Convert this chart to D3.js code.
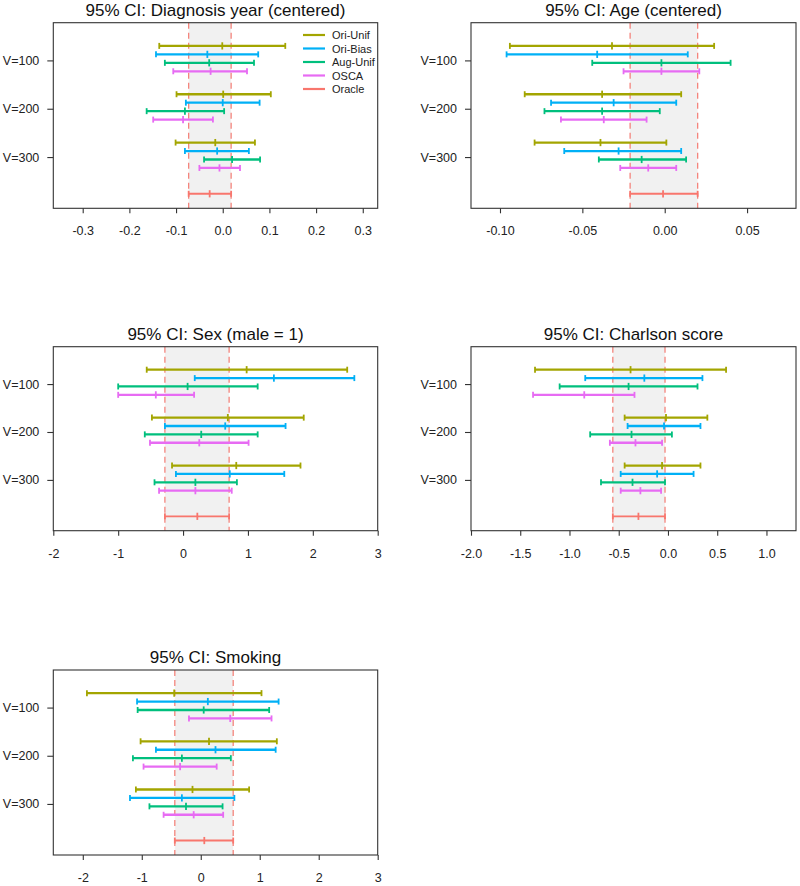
<!DOCTYPE html>
<html><head><meta charset="utf-8">
<script src="https://cdn.jsdelivr.net/npm/d3@7"></script>
<style>body{margin:0;background:#fff}svg{display:block;font-family:"Liberation Sans",Arial,sans-serif}</style>
</head><body>
<svg id="chart" width="800" height="886"></svg>
<script>
// ---- data ----
const methods = ["Ori-Unif", "Ori-Bias", "Aug-Unif", "OSCA"];
const legendLabels = ["Ori-Unif", "Ori-Bias", "Aug-Unif", "OSCA", "Oracle"];
const groups = ["V=100", "V=200", "V=300"];
const titles = ["95% CI: Diagnosis year (centered)", "95% CI: Age (centered)", "95% CI: Sex (male = 1)", "95% CI: Charlson score", "95% CI: Smoking"];

// values ordered V=100 (Ori-Unif, Ori-Bias, Aug-Unif, OSCA), V=200 (...), V=300 (...)
const diagLow  = [-0.136, -0.143, -0.124, -0.106,  -0.099, -0.079, -0.163, -0.149,  -0.101, -0.081, -0.040, -0.050];
const diagEst  = [-0.001, -0.033, -0.029, -0.026,   0.001,  0.000, -0.081, -0.085,  -0.016, -0.012,  0.020, -0.007];
const diagHigh = [ 0.134,  0.076,  0.067,  0.052,   0.103,  0.079,  0.003, -0.021,   0.069,  0.056,  0.080,  0.037];
const diagOracle = [-0.073, -0.028, 0.018];

const ageLow  = [-0.094, -0.096, -0.044, -0.025,  -0.085, -0.069, -0.073, -0.063,  -0.079, -0.061, -0.040, -0.027];
const ageEst  = [-0.032, -0.041, -0.002, -0.002,  -0.038, -0.031, -0.038, -0.037,  -0.039, -0.028, -0.014, -0.010];
const ageHigh = [ 0.030,  0.014,  0.040,  0.021,   0.010,  0.007, -0.003, -0.011,   0.001,  0.010,  0.013,  0.007];
const ageOracle = [-0.021, -0.001, 0.020];

const sexLow  = [-0.56, 0.18, -1.00, -1.00,  -0.48, -0.28, -0.59, -0.51,  -0.17, -0.11, -0.44, -0.37];
const sexEst  = [ 0.98, 1.40,  0.07, -0.42,   0.69,  0.65,  0.28,  0.25,   0.82,  0.72,  0.19,  0.19];
const sexHigh = [ 2.53, 2.64,  1.15,  0.17,   1.86,  1.58,  1.15,  1.01,   1.81,  1.56,  0.83,  0.75];
const sexOracle = [-0.28, 0.22, 0.71];

const charlLow  = [-1.35, -0.84, -1.10, -1.37,  -0.44, -0.41, -0.79, -0.59,  -0.44, -0.48, -0.68, -0.48];
const charlEst  = [-0.38, -0.24, -0.40, -0.85,  -0.02, -0.04, -0.37, -0.33,  -0.06, -0.11, -0.36, -0.28];
const charlHigh = [ 0.59,  0.35,  0.30, -0.34,   0.40,  0.33,  0.04, -0.06,   0.33,  0.26, -0.03, -0.07];
const charlOracle = [-0.56, -0.30, -0.03];

const smokeLow  = [-1.93, -1.08, -1.07, -0.20,  -1.02, -0.76, -1.15, -0.97,  -1.10, -1.20, -0.87, -0.63];
const smokeEst  = [-0.45,  0.12,  0.05,  0.50,   0.14,  0.25, -0.32, -0.35,  -0.14, -0.32, -0.25, -0.12];
const smokeHigh = [ 1.03,  1.32,  1.16,  1.20,   1.29,  1.27,  0.51,  0.27,   0.82,  0.57,  0.37,  0.38];
const smokeOracle = [-0.44, 0.06, 0.55];

const diagTicks  = [-0.3, -0.2, -0.1, 0.0, 0.1, 0.2, 0.3];
const ageTicks   = [-0.10, -0.05, 0.00, 0.05];
const sexTicks   = [-2, -1, 0, 1, 2, 3];
const charlTicks = [-2.0, -1.5, -1.0, -0.5, 0.0, 0.5, 1.0];
const smokeTicks = [-2, -1, 0, 1, 2, 3];

const colors = {"Ori-Unif": "#A3A500", "Ori-Bias": "#00B0F6", "Aug-Unif": "#00BF7D", "OSCA": "#E76BF3", "Oracle": "#F8766D"};

// ---- layout ----
const panels = [
  {title: titles[0], lo: diagLow, est: diagEst, hi: diagHigh, oracle: diagOracle, ticks: diagTicks, fmt: d3.format(".1f"), xdom: [-0.363, 0.332], box: [53.3, 377.7, 22.7, 208.3], legend: true},
  {title: titles[1], lo: ageLow, est: ageEst, hi: ageHigh, oracle: ageOracle, ticks: ageTicks, fmt: d3.format(".2f"), xdom: [-0.1176, 0.0797], box: [471, 796, 22.7, 208.3]},
  {title: titles[2], lo: sexLow, est: sexEst, hi: sexHigh, oracle: sexOracle, ticks: sexTicks, fmt: d3.format("d"), xdom: [-2, 3], box: [53.3, 377.7, 346.7, 530.7]},
  {title: titles[3], lo: charlLow, est: charlEst, hi: charlHigh, oracle: charlOracle, ticks: charlTicks, fmt: d3.format(".1f"), xdom: [-2, 1.3], box: [471, 796, 346.7, 530.7]},
  {title: titles[4], lo: smokeLow, est: smokeEst, hi: smokeHigh, oracle: smokeOracle, ticks: smokeTicks, fmt: d3.format("d"), xdom: [-2.5, 3], box: [53.3, 377.7, 670, 855]}
];

const svg = d3.select("#chart");
const rowOffset = i => -0.3 + i * 0.175;
const oraclePos = 2.76;
const minus = s => s.replace("−", "-");

function drawCI(g, x, y, lo, est, hi, color, lw) {
  g.append("line").attr("x1", x(lo)).attr("x2", x(hi)).attr("y1", y).attr("y2", y)
    .attr("stroke", color).attr("stroke-width", lw);
  [[lo, 3], [hi, 3], [est, 3.6]].forEach(([v, h]) => {
    g.append("line").attr("x1", x(v)).attr("x2", x(v)).attr("y1", y - h).attr("y2", y + h)
      .attr("stroke", color).attr("stroke-width", 1.8);
  });
}

panels.forEach(p => {
  const [L, R, T, B] = p.box;
  const x = d3.scaleLinear().domain(p.xdom).range([L, R]);
  const y = d3.scaleLinear().domain([-0.78, 3.06]).range([T, B]);
  const g = svg.append("g");

  // oracle band
  g.append("rect").attr("x", x(p.oracle[0])).attr("y", T).attr("width", x(p.oracle[2]) - x(p.oracle[0]))
    .attr("height", B - T).attr("fill", "#f1f1f1");
  [p.oracle[0], p.oracle[2]].forEach(v => {
    g.append("line").attr("x1", x(v)).attr("x2", x(v)).attr("y1", T).attr("y2", B)
      .attr("stroke", "#F4857D").attr("stroke-width", 1.3).attr("stroke-dasharray", "6,4");
  });

  // method CIs
  groups.forEach((grp, gi) => {
    methods.forEach((m, mi) => {
      const k = gi * 4 + mi;
      drawCI(g, x, y(gi + rowOffset(mi)), p.lo[k], p.est[k], p.hi[k], colors[m], 2.3);
    });
  });
  drawCI(g, x, y(oraclePos), p.oracle[0], p.oracle[1], p.oracle[2], colors["Oracle"], 1.9);

  // box
  g.append("rect").attr("x", L).attr("y", T).attr("width", R - L).attr("height", B - T)
    .attr("fill", "none").attr("stroke", "#333").attr("stroke-width", 1.1);

  // x axis
  const xa = g.append("g").attr("transform", `translate(0,${B})`)
    .call(d3.axisBottom(x).tickValues(p.ticks).tickFormat(d => minus(p.fmt(d))).tickSize(5).tickPadding(13));
  xa.select(".domain").remove();
  xa.selectAll("line").attr("stroke", "#333").attr("stroke-width", 1.1);
  xa.selectAll("text").attr("font-size", 12.5).attr("fill", "#222").attr("font-family", "Liberation Sans, Arial, sans-serif");

  // y axis
  const ya = g.append("g").attr("transform", `translate(${L},0)`)
    .call(d3.axisLeft(y).tickValues([0, 1, 2]).tickFormat((d, i) => groups[i]).tickSize(6).tickPadding(8));
  ya.select(".domain").remove();
  ya.selectAll("line").attr("stroke", "#333").attr("stroke-width", 1.1);
  ya.selectAll("text").attr("font-size", 12.5).attr("fill", "#222").attr("font-family", "Liberation Sans, Arial, sans-serif");

  // title
  g.append("text").attr("x", (L + R) / 2).attr("y", T - 7).attr("text-anchor", "middle")
    .attr("font-size", 17).attr("fill", "#111").text(p.title);

  if (p.legend) {
    const lg = g.append("g");
    legendLabels.forEach((lab, i) => {
      const ly = 35 + i * 13.5;
      lg.append("line").attr("x1", 303).attr("x2", 325).attr("y1", ly).attr("y2", ly)
        .attr("stroke", colors[lab]).attr("stroke-width", 2.2);
      lg.append("text").attr("x", 332).attr("y", ly + 4).attr("font-size", 11).attr("fill", "#222").text(lab);
    });
  }
});
</script>
</body></html>
